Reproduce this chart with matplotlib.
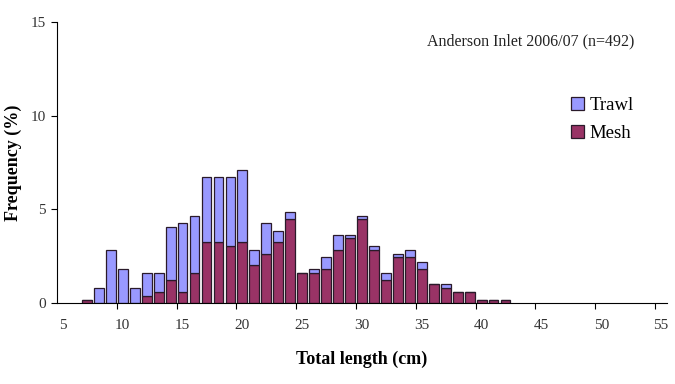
import matplotlib
matplotlib.use("Agg")
import matplotlib.pyplot as plt
import numpy as np

# total length classes (cm) and frequencies (%)
lengths = list(range(7, 43))
mesh = [0.2, 0.0, 0.0, 0.0, 0.0, 0.41, 0.61, 1.22, 0.61, 1.63,
        3.25, 3.25, 3.05, 3.25, 2.03, 2.64, 3.25, 4.47, 1.63, 1.63,
        1.83, 2.85, 3.46, 4.47, 2.85, 1.22, 2.44, 2.44, 1.83, 1.02,
        0.81, 0.61, 0.61, 0.2, 0.2, 0.2]
total = [0.2, 0.81, 2.85, 1.83, 0.81, 1.63, 1.63, 4.07, 4.27, 4.67,
         6.71, 6.71, 6.71, 7.11, 2.85, 4.27, 3.86, 4.88, 1.63, 1.83,
         2.44, 3.66, 3.66, 4.67, 3.05, 1.63, 2.64, 2.85, 2.2, 1.02,
         1.02, 0.61, 0.61, 0.2, 0.2, 0.2]
trawl = [t - m for t, m in zip(total, mesh)]

x_labels = list(range(5, 60, 5))

plt.rcParams["font.family"] = ["Liberation Serif", "DejaVu Serif"]

fig = plt.figure(figsize=(6.75, 3.84), dpi=100)
ax = fig.add_axes([57 / 675, 80.7 / 384, 610 / 675, 281.6 / 384])

edge = "#2a1a2a"
m_bars = ax.bar(lengths, mesh, width=0.82, color="#993366", edgecolor=edge, linewidth=0.9)
t_bars = ax.bar(lengths, trawl, bottom=mesh, width=0.82, color="#9999ff",
                edgecolor=edge, linewidth=0.9)

ax.set_xlim(4.5, 55.5)
ax.set_ylim(0, 15)
ax.set_yticks([0, 5, 10, 15])
ax.set_xticks(x_labels)
ax.set_xticks(np.arange(9.5, 55, 5), minor=True)
ax.tick_params(axis="x", which="major", length=0, pad=11, labelsize=11, labelcolor="#333333")
ax.tick_params(axis="x", which="minor", length=4, width=0.8, direction="out")
ax.tick_params(axis="y", length=4, width=0.8, labelsize=11, labelcolor="#333333", pad=4)

for s in ["top", "right"]:
    ax.spines[s].set_visible(False)
ax.spines["left"].set_linewidth(0.8)
ax.spines["bottom"].set_linewidth(0.8)

ax.set_xlabel("Total length (cm)", fontsize=13, fontweight="bold", labelpad=14)
ax.set_ylabel("Frequency (%)", fontsize=13, fontweight="bold")
ax.yaxis.set_label_coords(-0.058, 0.5)

fig.text(427 / 675, 1 - 41 / 384, "Anderson Inlet 2006/07 (n=492)", fontsize=11.5,
         va="center", ha="left", color="#222222")

ax.legend([t_bars, m_bars], ["Trawl", "Mesh"], loc="upper left",
          bbox_to_anchor=(554 / 675, 1 - 80 / 384), bbox_transform=fig.transFigure,
          frameon=False, fontsize=13.5, handlelength=0.7, handleheight=0.7,
          handletextpad=0.3, labelspacing=0.6)

fig.savefig("out.png", dpi=100)
